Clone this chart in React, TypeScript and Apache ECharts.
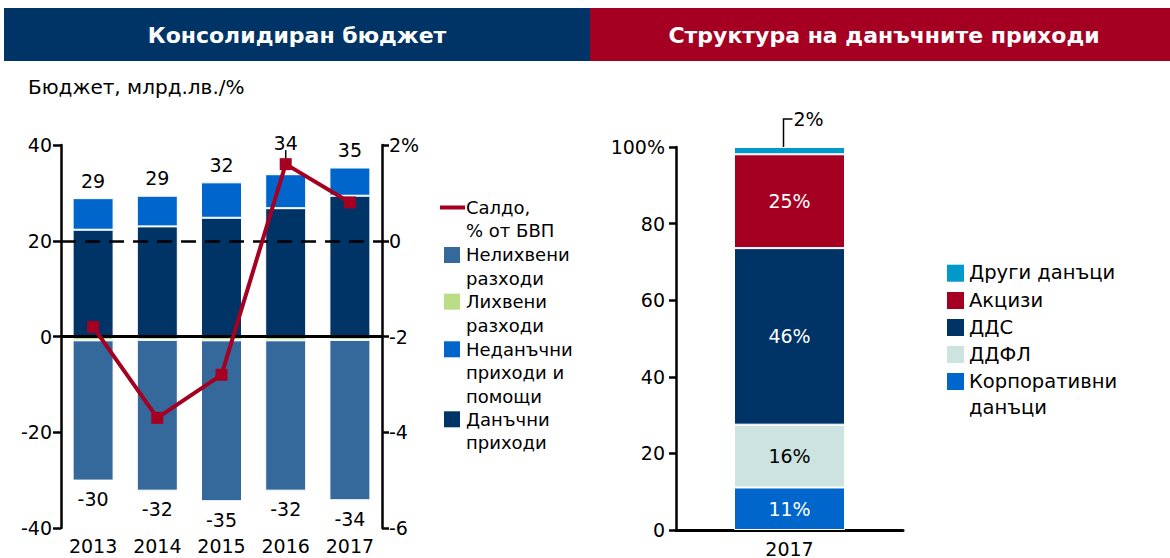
import React, { useEffect, useRef } from "react";
import * as echarts from "echarts";

const categories = ["2013", "2014", "2015", "2016", "2017"];
const taxRevenue = [22.3, 23.0, 24.8, 26.8, 29.4];
const nonTaxRevenue = [6.6, 6.4, 7.4, 7.1, 5.9];
const interestExp = [-0.8, -0.7, -0.8, -0.8, -0.7];
const nonInterestExp = [-29.3, -31.5, -33.6, -31.4, -33.5];
const revenueTotals = [29, 29, 32, 34, 35];
const expenditureTotals = [-30, -32, -35, -32, -34];
const balancePct = [-1.8, -3.7, -2.8, 1.6, 0.8];

const structureCategory = ["2017"];
const corporateTax = [11.1];
const personalIncomeTax = [16.4];
const vat = [46.1];
const excise = [24.5];
const otherTaxes = [1.9];
const structureLabels = ["11%", "16%", "46%", "25%", "2%"];

const leftLegend = [
  { name: "Салдо,\n% от БВП", lines: 2 },
  { name: "Нелихвени\nразходи", lines: 2 },
  { name: "Лихвени\nразходи", lines: 2 },
  { name: "Неданъчни\nприходи и\nпомощи", lines: 3 },
  { name: "Данъчни\nприходи", lines: 2 },
];
const rightLegend = ["Други данъци", "Акцизи", "ДДС", "ДДФЛ", "Корпоративни\nданъци"];

const NAVY = "#003366";
const RED = "#A50021";
const BLUE = "#0066CC";
const STEEL = "#35689B";
const GREEN = "#BBDD88";
const LIGHT = "#CCE3E0";
const CYAN = "#0099CC";
const FONT = "DejaVu Sans";

export default function App() {
  const ref = useRef<HTMLDivElement>(null);
  useEffect(() => {
    if (!ref.current) return;
    const chart = echarts.init(ref.current, undefined, { renderer: "svg" });
    const axisLabel = { color: "#000", fontSize: 19, fontFamily: FONT };
    const barBorder = { borderColor: "#fff", borderWidth: 1 };
    const option: any = {
      animation: false,
      textStyle: { fontFamily: FONT },
      grid: [
        { left: 61, top: 145, width: 321, height: 383 },
        { left: 676, top: 147, width: 227, height: 384 },
      ],
      xAxis: [
        {
          type: "category",
          gridIndex: 0,
          data: categories,
          axisLine: { show: false },
          axisTick: { show: false },
          axisLabel: { ...axisLabel, margin: 8 },
        },
        {
          type: "category",
          gridIndex: 1,
          data: structureCategory,
          axisLine: { show: true, onZero: false, lineStyle: { color: "#000", width: 3 } },
          axisTick: { show: false },
          axisLabel: { ...axisLabel, margin: 9 },
        },
      ],
      yAxis: [
        {
          type: "value",
          gridIndex: 0,
          min: -40,
          max: 40,
          interval: 20,
          axisLine: { show: true, lineStyle: { color: "#000", width: 2.5 } },
          axisTick: { show: true, length: 8, lineStyle: { color: "#000", width: 2.5 } },
          axisLabel: { ...axisLabel, margin: 9 },
          splitLine: { show: false },
        },
        {
          type: "value",
          gridIndex: 0,
          position: "right",
          min: -6,
          max: 2,
          interval: 2,
          axisLine: { show: true, lineStyle: { color: "#000", width: 2.5 } },
          axisTick: { show: true, length: 7, lineStyle: { color: "#000", width: 2.5 } },
          axisLabel: { ...axisLabel, margin: 7, formatter: (v: number) => (v === 2 ? "2%" : String(v)) },
          splitLine: { show: false },
        },
        {
          type: "value",
          gridIndex: 1,
          min: 0,
          max: 100,
          interval: 20,
          axisLine: { show: true, lineStyle: { color: "#000", width: 2.5 } },
          axisTick: { show: true, length: 7, lineStyle: { color: "#000", width: 2.5 } },
          axisLabel: { ...axisLabel, margin: 11, formatter: (v: number) => (v === 100 ? "100%" : String(v)) },
          splitLine: { show: false },
        },
      ],
      series: [
        {
          name: "Данъчни приходи",
          type: "bar",
          stack: "budget",
          xAxisIndex: 0,
          yAxisIndex: 0,
          barWidth: 41,
          data: taxRevenue,
          itemStyle: { color: NAVY, ...barBorder },
          markLine: {
            silent: true,
            symbol: "none",
            label: { show: false },
            data: [
              { yAxis: 0, lineStyle: { color: "#000", width: 3, type: "solid" } },
              { yAxis: 20, lineStyle: { color: "#000", width: 2.5, type: [15, 9] } },
            ],
          },
        },
        {
          name: "Неданъчни приходи и помощи",
          type: "bar",
          stack: "budget",
          xAxisIndex: 0,
          yAxisIndex: 0,
          barWidth: 41,
          data: nonTaxRevenue.map((v, i) =>
            i === 3 ? { value: v, label: { distance: 22 } } : v
          ),
          itemStyle: { color: BLUE, ...barBorder },
          label: {
            show: true,
            position: "top",
            distance: 8,
            color: "#000",
            fontSize: 19,
            fontFamily: FONT,
            formatter: (p: any) => String(revenueTotals[p.dataIndex]),
          },
        },
        {
          name: "Лихвени разходи",
          type: "bar",
          stack: "budget",
          xAxisIndex: 0,
          yAxisIndex: 0,
          barWidth: 41,
          data: interestExp,
          itemStyle: { color: GREEN, ...barBorder },
        },
        {
          name: "Нелихвени разходи",
          type: "bar",
          stack: "budget",
          xAxisIndex: 0,
          yAxisIndex: 0,
          barWidth: 41,
          data: nonInterestExp,
          itemStyle: { color: STEEL, ...barBorder },
          label: {
            show: true,
            position: "bottom",
            distance: 9,
            color: "#000",
            fontSize: 19,
            fontFamily: FONT,
            formatter: (p: any) => String(expenditureTotals[p.dataIndex]),
          },
        },
        {
          name: "Салдо, % от БВП",
          type: "line",
          xAxisIndex: 0,
          yAxisIndex: 1,
          data: balancePct,
          z: 5,
          symbol: "rect",
          symbolSize: 12,
          lineStyle: { color: RED, width: 4 },
          itemStyle: { color: RED },
        },
        {
          name: "Корпоративни данъци",
          type: "bar",
          stack: "structure",
          xAxisIndex: 1,
          yAxisIndex: 2,
          barWidth: 111,
          data: corporateTax,
          itemStyle: { color: BLUE, ...barBorder },
          label: { show: true, position: "inside", color: "#fff", fontSize: 19, fontFamily: FONT, formatter: () => structureLabels[0] },
        },
        {
          name: "ДДФЛ",
          type: "bar",
          stack: "structure",
          xAxisIndex: 1,
          yAxisIndex: 2,
          barWidth: 111,
          data: personalIncomeTax,
          itemStyle: { color: LIGHT, ...barBorder },
          label: { show: true, position: "inside", color: "#000", fontSize: 19, fontFamily: FONT, formatter: () => structureLabels[1] },
        },
        {
          name: "ДДС",
          type: "bar",
          stack: "structure",
          xAxisIndex: 1,
          yAxisIndex: 2,
          barWidth: 111,
          data: vat,
          itemStyle: { color: NAVY, ...barBorder },
          label: { show: true, position: "inside", color: "#fff", fontSize: 19, fontFamily: FONT, formatter: () => structureLabels[2] },
        },
        {
          name: "Акцизи",
          type: "bar",
          stack: "structure",
          xAxisIndex: 1,
          yAxisIndex: 2,
          barWidth: 111,
          data: excise,
          itemStyle: { color: RED, ...barBorder },
          label: { show: true, position: "inside", color: "#fff", fontSize: 19, fontFamily: FONT, formatter: () => structureLabels[3] },
        },
        {
          name: "Други данъци",
          type: "bar",
          stack: "structure",
          xAxisIndex: 1,
          yAxisIndex: 2,
          barWidth: 111,
          data: otherTaxes,
          itemStyle: { color: CYAN, ...barBorder },
        },
      ],
    };
    chart.setOption(option);

    const [lx, ly] = chart.convertToPixel({ xAxisIndex: 0, yAxisIndex: 1 } as any, [categories[3], balancePct[3]]) as number[];
    const [rx, ry] = chart.convertToPixel({ xAxisIndex: 1, yAxisIndex: 2 } as any, [structureCategory[0], 100]) as number[];

    const elements: any[] = [
      { type: "rect", shape: { x: 4, y: 8, width: 586, height: 53 }, style: { fill: NAVY } },
      { type: "rect", shape: { x: 590, y: 8, width: 580, height: 53 }, style: { fill: RED } },
      {
        type: "text",
        x: 297,
        y: 35,
        style: { text: "Консолидиран бюджет", fill: "#fff", fontSize: 22, fontWeight: "bold", fontFamily: FONT, align: "center", verticalAlign: "middle" },
      },
      {
        type: "text",
        x: 884,
        y: 35,
        style: { text: "Структура на данъчните приходи", fill: "#fff", fontSize: 22, fontWeight: "bold", fontFamily: FONT, align: "center", verticalAlign: "middle" },
      },
      {
        type: "text",
        x: 28,
        y: 87,
        style: { text: "Бюджет, млрд.лв./%", fill: "#000", fontSize: 20, fontFamily: FONT, align: "left", verticalAlign: "middle" },
      },
      // 2016 label leader
      { type: "line", shape: { x1: lx, y1: ly - 14, x2: lx, y2: ly }, style: { stroke: "#000", lineWidth: 1.5 }, z: 1 },
      // 2% leader
      {
        type: "polyline",
        shape: { points: [[rx - 6, ry + 5], [rx - 6, ry - 28], [rx + 3, ry - 28]] },
        style: { stroke: "#000", lineWidth: 1.5, fill: "none" },
      },
      {
        type: "text",
        x: rx + 4,
        y: ry - 28,
        style: { text: structureLabels[4], fill: "#000", fontSize: 19, fontFamily: FONT, align: "left", verticalAlign: "middle" },
      },
    ];

    // Left legend
    const leftFirstLine = [207.5, 255, 301.7, 349.3, 419.3];
    const leftColors = [RED, STEEL, GREEN, BLUE, NAVY];
    const lh = 23.4;
    leftLegend.forEach((item, i) => {
      const cy = leftFirstLine[i];
      if (i === 0) {
        elements.push({ type: "rect", shape: { x: 440, y: cy - 2, width: 25, height: 4 }, style: { fill: RED } });
      } else {
        elements.push({ type: "rect", shape: { x: 444, y: cy - 8, width: 16, height: 16 }, style: { fill: leftColors[i] } });
      }
      elements.push({
        type: "text",
        x: 466,
        y: cy - lh / 2,
        style: { text: item.name, fill: "#000", fontSize: 18, fontFamily: FONT, lineHeight: lh, align: "left", verticalAlign: "top" },
      });
    });

    // Right legend
    const rightFirstLine = [272.7, 300, 327, 354, 381];
    const rightColors = [CYAN, RED, NAVY, LIGHT, BLUE];
    const rlh = 26.5;
    rightLegend.forEach((name, i) => {
      const cy = rightFirstLine[i];
      elements.push({ type: "rect", shape: { x: 947, y: cy - 8, width: 17, height: 17 }, style: { fill: rightColors[i] } });
      elements.push({
        type: "text",
        x: 969,
        y: cy - rlh / 2,
        style: { text: name, fill: "#000", fontSize: 19.5, fontFamily: FONT, lineHeight: rlh, align: "left", verticalAlign: "top" },
      });
    });

    chart.setOption({ graphic: { elements } });

    return () => chart.dispose();
  }, []);
  return (
    <div
      ref={ref}
      style={{ position: "absolute", left: 0, top: 0, width: 1170, height: 558, background: "#fff" }}
    />
  );
}
